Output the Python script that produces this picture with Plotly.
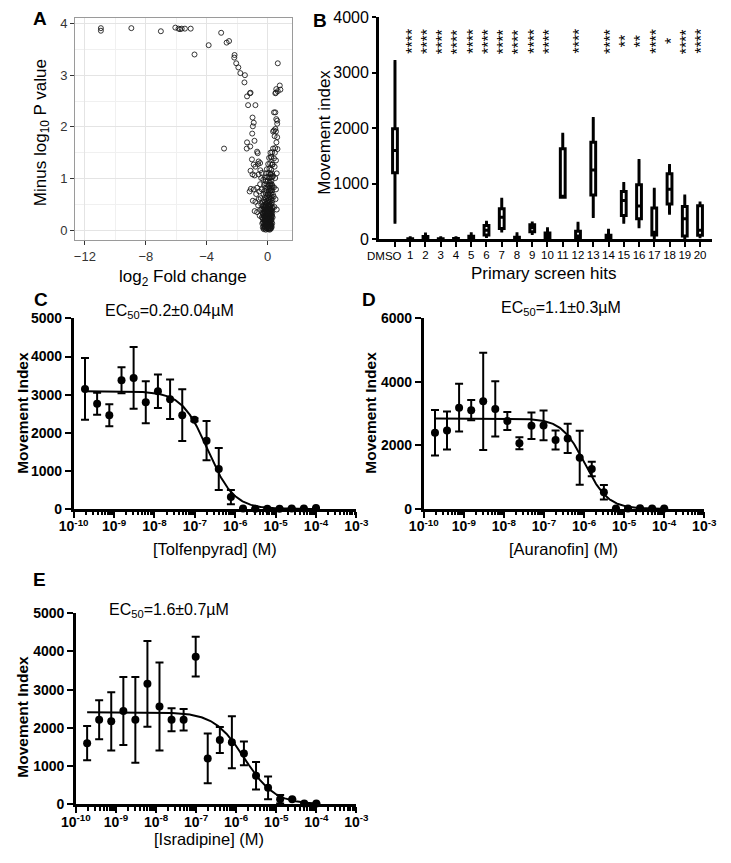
import numpy as np
import plotly.graph_objects as go

W, H = 731, 863
def px(x): return x / W
def py(y): return 1 - y / H

FONT = "Liberation Sans, Arial, sans-serif"

# ---------------- Panel A : volcano plot ----------------
vol_top_x = [-10.95,-10.95,-8.95,-7.01,-6.06,-5.85,-5.75,-5.64,-5.43,-5.05,-4.80,-3.87,-3.05,-2.69,-2.53,
             -2.17,-2.19,-2.06,-1.92,-1.79,-1.49,-1.52,-1.16,-1.12,-1.35,-1.28,-0.80,-2.86]
vol_top_y = [3.91,3.86,3.91,3.85,3.92,3.90,3.89,3.90,3.90,3.90,3.40,3.58,3.82,3.63,3.66,
             3.39,3.34,3.23,3.15,3.04,3.00,2.86,2.65,2.66,2.59,2.42,2.42,1.58]
vol_left_x = [-0.99,-0.91,-0.97,-1.01,-0.86,-1.35,-1.37,-1.14,-0.69,-0.65,-1.03,-0.91,-1.12,-0.99,-0.59,
              -0.48,-0.42,-0.63,-0.80,-0.49,-0.85,-0.59,-0.38,-0.28,-0.49,-1.18,-0.91,-0.69,-0.55,-0.38,
              -0.97,-0.80,-0.59,-0.85,-0.69,-0.49,-1.10,-0.75,-0.62,-0.45,-0.52,-0.41]
vol_left_y = [2.18,2.08,2.01,1.87,1.73,1.70,1.58,1.62,1.52,1.49,1.37,1.27,1.15,1.08,1.33,
              1.16,1.01,1.28,1.23,1.30,1.06,1.08,1.11,0.98,0.89,0.75,0.79,0.82,0.75,0.79,
              0.57,0.55,0.60,0.37,0.35,0.39,0.80,0.70,0.48,0.62,0.28,0.50]
vol_right_x = [0.67,0.80,0.84,0.57,0.51,0.67,0.55,0.51,0.42,0.57,0.63,0.51,0.36,0.63,0.42,
               0.55,0.46,0.63,0.36,0.50,0.65,0.25,0.42,0.55,0.29,0.46,0.21,0.36,0.50,0.15,
               0.29,0.42,0.55,0.21,0.58,0.48,0.60,0.40,0.52,0.45,0.60]
vol_right_y = [3.23,2.80,2.72,2.73,2.65,2.69,2.66,2.28,2.28,2.15,2.06,1.96,1.91,2.12,1.93,
               1.91,1.82,1.80,1.58,1.59,1.57,1.42,1.39,1.35,1.27,1.23,1.08,1.05,1.01,0.91,
               0.87,0.83,0.79,0.77,1.70,1.50,1.10,0.65,0.60,0.45,0.40]
vol_blob_x = [-0.25,-0.12,-0.03,0.05,0.14,0.22,
              -0.31,-0.18,-0.08,0.02,0.10,0.19,0.27,
              -0.22,-0.14,-0.05,0.04,0.12,0.24,
              -0.35,-0.27,-0.10,-0.01,0.08,0.17,0.30,
              -0.19,-0.06,0.03,0.13,0.21,
              -0.29,-0.15,-0.02,0.07,0.16,0.26,
              -0.38,-0.21,-0.09,0.01,0.11,0.20,0.33,
              -0.26,-0.13,-0.04,0.06,0.15,0.24,
              -0.33,-0.17,-0.07,0.03,0.12,0.22,0.31,
              -0.24,-0.11,0.00,0.09,0.18,0.27,
              -0.36,-0.19,-0.06,0.05,0.14,0.25,
              -0.28,-0.14,-0.02,0.08,0.20,0.34,
              -0.22,-0.09,0.02,0.12,0.23,
              -0.31,-0.16,-0.04,0.07,0.17,0.28,
              -0.25,-0.10,0.01,0.10,0.21,0.32,
              -0.18,-0.05,0.06,0.15,0.26,
              -0.27,-0.12,0.03,0.13,0.24,0.35,
              -0.20,-0.07,0.08,0.18,0.29,
              -0.15,-0.02,0.11,0.22,0.33,
              -0.23,-0.08,0.05,0.16,0.27,
              -0.12,0.02,0.14,0.25,
              -0.17,-0.03,0.09,0.20,0.31,
              -0.10,0.06,0.18,0.28,
              -0.05,0.12,0.24,
              0.04,0.17,0.33,
              0.10,0.22,
              0.19,0.30]
vol_blob_y = [0.02,0.01,0.03,0.02,0.01,0.03,
              0.05,0.06,0.04,0.06,0.05,0.04,0.06,
              0.09,0.10,0.08,0.09,0.10,0.09,
              0.13,0.14,0.12,0.13,0.14,0.12,0.13,
              0.17,0.18,0.16,0.17,0.18,
              0.21,0.22,0.20,0.21,0.22,0.20,
              0.25,0.26,0.24,0.25,0.26,0.24,0.25,
              0.29,0.30,0.28,0.29,0.30,0.28,
              0.33,0.34,0.32,0.33,0.34,0.32,0.33,
              0.37,0.38,0.36,0.37,0.38,0.36,
              0.41,0.42,0.40,0.41,0.42,0.40,
              0.45,0.46,0.44,0.45,0.46,0.44,
              0.49,0.50,0.48,0.49,0.50,
              0.54,0.55,0.53,0.54,0.55,0.53,
              0.59,0.60,0.58,0.59,0.60,0.58,
              0.64,0.65,0.63,0.64,0.65,
              0.70,0.71,0.69,0.70,0.71,0.69,
              0.76,0.77,0.75,0.76,0.77,
              0.82,0.83,0.81,0.82,0.83,
              0.88,0.89,0.87,0.88,0.89,
              0.95,0.96,0.94,0.95,
              1.02,1.03,1.01,1.02,1.03,
              1.10,1.11,1.09,1.10,
              1.18,1.19,1.17,
              1.28,1.29,1.27,
              1.40,1.41,
              1.50,1.51]
vol_fill_x = [-0.20,-0.07,0.08,0.17,
              -0.27,-0.11,0.00,0.15,0.23,
              -0.17,-0.02,0.06,0.20,
              -0.30,-0.13,0.01,0.10,0.26,
              -0.23,-0.09,0.05,0.19,
              -0.33,-0.17,-0.05,0.09,0.23,
              -0.20,-0.08,0.03,0.12,0.29,
              -0.29,-0.10,0.01,0.18,
              -0.20,-0.03,0.14,0.24,
              -0.28,-0.12,0.02,0.20,
              -0.20,-0.05,0.11,0.29,
              -0.30,-0.15,0.05,0.17]
vol_fill_y = [0.035,0.036,0.034,0.035,
              0.075,0.074,0.076,0.075,0.074,
              0.115,0.116,0.114,0.115,
              0.155,0.156,0.154,0.155,0.156,
              0.195,0.194,0.196,0.195,
              0.235,0.236,0.234,0.235,0.236,
              0.275,0.274,0.276,0.275,0.274,
              0.315,0.316,0.314,0.315,
              0.355,0.354,0.356,0.355,
              0.395,0.396,0.394,0.395,
              0.435,0.434,0.436,0.435,
              0.475,0.476,0.474,0.475]
vol_x = vol_top_x + vol_left_x + vol_right_x + vol_blob_x + vol_fill_x
vol_y = vol_top_y + vol_left_y + vol_right_y + vol_blob_y + vol_fill_y

# ---------------- Panel B : box plot ----------------
b_cats = ["DMSO"] + [str(i) for i in range(1, 21)]
b_ticktext = [""] + [str(i) for i in range(1, 21)]   # DMSO label drawn separately (left-shifted)
b_min = [310, 0, 0, 0, 0, 0, 50, 150, 0, 105, 0, 760, 0, 410, 0, 310, 225, 30, 470, 20, 45]
b_q1  = [1200, 2, 10, 2, 3, 10, 80, 195, 5, 135, 20, 760, 30, 800, 15, 430, 370, 80, 635, 60, 75]
b_med = [1600, 5, 30, 6, 8, 30, 165, 400, 20, 210, 70, 760, 60, 1250, 45, 700, 600, 130, 900, 370, 165]
b_q3  = [1990, 12, 50, 12, 15, 55, 250, 550, 40, 265, 115, 1630, 145, 1750, 75, 860, 985, 565, 1180, 590, 605]
b_max = [3200, 30, 95, 30, 30, 100, 310, 720, 100, 295, 190, 1890, 290, 2175, 165, 1005, 1420, 900, 1330, 780, 655]
b_sig = ["", "****", "****", "****", "****", "****", "****", "****", "****", "****", "****",
         "", "****", "", "****", "**", "**", "****", "*", "****", "****"]

# ---------------- Panels C, D, E : dose response ----------------
doses = [1.91e-10, 3.81e-10, 7.63e-10, 1.53e-9, 3.05e-9, 6.10e-9, 1.22e-8, 2.44e-8, 4.88e-8, 9.77e-8,
         1.95e-7, 3.91e-7, 7.81e-7, 1.56e-6, 3.13e-6, 6.25e-6, 1.25e-5, 2.5e-5, 5e-5, 1e-4]

c_y = [3150, 2760, 2460, 3380, 3440, 2800, 3090, 2880, 2460, 2340, 1790, 1050, 310, 10, 5, 8, 8, 10, 12, 26]
c_err = [810, 290, 290, 340, 810, 550, 440, 520, 680, 40, 515, 550, 190, 0, 0, 0, 0, 0, 0, 0]
c_fit = dict(top=3090, ec50=2.1e-7, hill=1.35)

d_y = [2400, 2470, 3190, 3110, 3390, 3150, 2770, 2070, 2620, 2630, 2170, 2220, 1610, 1260, 525, 10, 10, 20, 15, 10]
d_err = [720, 600, 750, 320, 1530, 870, 280, 190, 420, 470, 300, 460, 850, 230, 230, 0, 0, 0, 0, 0]
d_fit = dict(top=2850, ec50=1.05e-6, hill=1.5)

e_y = [1600, 2210, 2170, 2440, 2210, 3150, 2560, 2210, 2210, 3860, 1200, 1680, 1620, 1330, 745, 430, 130, 130, 20, 20]
e_err = [450, 510, 760, 890, 1120, 1120, 1150, 300, 280, 520, 650, 340, 680, 310, 360, 300, 110, 0, 0, 0]
e_fit = dict(top=2410, ec50=1.6e-6, hill=1.15)

fig = go.Figure()

# Panel A trace
fig.add_trace(go.Scatter(x=vol_x, y=vol_y, mode="markers", xaxis="x", yaxis="y",
                         marker=dict(symbol="circle-open", size=5, color="rgba(20,20,20,0.85)",
                                     line=dict(width=1)),
                         showlegend=False, hoverinfo="skip"))

# Panel B trace
fig.add_trace(go.Box(x=b_cats, q1=b_q1, median=b_med, q3=b_q3, lowerfence=b_min, upperfence=b_max,
                     xaxis="x2", yaxis="y2", line=dict(color="black", width=3), fillcolor="white",
                     whiskerwidth=0.6, boxpoints=False, showlegend=False))

def dose_panel(idx, ys, errs, fit):
    xa = "x%d" % idx
    ya = "y%d" % idx
    xc = np.logspace(np.log10(doses[0]), np.log10(doses[-1]), 300)
    yc = fit["top"] / (1 + (xc / fit["ec50"]) ** fit["hill"])
    fig.add_trace(go.Scatter(x=xc, y=yc, mode="lines", xaxis=xa, yaxis=ya,
                             line=dict(color="black", width=2), showlegend=False, hoverinfo="skip",
                             cliponaxis=False))
    fig.add_trace(go.Scatter(x=doses, y=ys, mode="markers", xaxis=xa, yaxis=ya,
                             marker=dict(color="black", size=8),
                             error_y=dict(type="data", array=errs, visible=True, color="black",
                                          thickness=2, width=4),
                             showlegend=False, cliponaxis=False))

dose_panel(3, c_y, c_err, c_fit)
dose_panel(4, d_y, d_err, d_fit)
dose_panel(5, e_y, e_err, e_fit)

# ---------------- Layout ----------------
a_axis_common = dict(showline=True, mirror=True, linecolor="#9a9a9a", linewidth=1.2,
                     ticks="outside", ticklen=4, tickwidth=1.3, tickcolor="#333",
                     showgrid=True, gridcolor="#e4e4e4", gridwidth=1, zeroline=False,
                     tickfont=dict(family=FONT, size=13, color="#333"))

log_major = [1e-10, 1e-9, 1e-8, 1e-7, 1e-6, 1e-5, 1e-4, 1e-3]
log_text = ["<b>10<sup>-%d</sup></b>" % k for k in range(10, 2, -1)]
log_minor = [m * 10.0 ** e for e in range(-10, -3) for m in range(2, 10)]

def log_xaxis(dom, anchor):
    return dict(domain=dom, anchor=anchor, type="log", range=[-10, -3],
                tickvals=log_major, ticktext=log_text,
                showline=True, linecolor="black", linewidth=2.5,
                ticks="outside", ticklen=6, tickwidth=2, tickcolor="black",
                ticklabelstandoff=-3,
                minor=dict(tickvals=log_minor, ticks="outside", ticklen=3.5, tickwidth=1.5,
                           tickcolor="black", showgrid=False),
                showgrid=False, zeroline=False,
                tickfont=dict(family=FONT, size=14, color="black"))

def lin_yaxis(dom, anchor, rmax, step):
    vals = list(range(0, rmax + 1, step))
    return dict(domain=dom, anchor=anchor, range=[0, rmax], tickvals=vals,
                ticktext=["<b>%d</b>" % v for v in vals],
                showline=True, linecolor="black", linewidth=2.5,
                ticks="outside", ticklen=6, tickwidth=2, tickcolor="black",
                showgrid=False, zeroline=False,
                tickfont=dict(family=FONT, size=14, color="black"))

fig.update_layout(
    width=W, height=H, margin=dict(l=0, r=0, t=0, b=0),
    paper_bgcolor="white", plot_bgcolor="white",
    font=dict(family=FONT, color="black"),
    boxgap=0.55,
    xaxis=dict(domain=[px(62.7), px(288.3)], anchor="y", range=[-12.63, 1.62],
               tickvals=[-12, -8, -4, 0], ticktext=["\u221212", "\u22128", "\u22124", "0"],
               minor=dict(tickvals=[-10, -6, -2], showgrid=True, gridcolor="#f0f0f0", gridwidth=0.8),
               **a_axis_common),
    yaxis=dict(domain=[py(236.7), py(10)], anchor="x", range=[-0.19, 4.11],
               tickvals=[0, 1, 2, 3, 4],
               minor=dict(tickvals=[0.5, 1.5, 2.5, 3.5], showgrid=True, gridcolor="#f0f0f0", gridwidth=0.8),
               **a_axis_common),
    xaxis2=dict(domain=[px(378.3), px(725)], anchor="y2", type="category", range=[-1.06, 20.8],
                tickvals=b_cats, ticktext=b_ticktext,
                showline=True, linecolor="black", linewidth=2.5, ticks="outside", ticklen=5,
                tickwidth=2, tickcolor="black", showgrid=False, zeroline=False, tickangle=0,
                ticklabelstandoff=-2,
                tickfont=dict(family=FONT, size=11.5, color="black")),
    yaxis2=dict(domain=[py(236), py(9.3)], anchor="x2", range=[0, 4000],
                tickvals=[0, 1000, 2000, 3000, 4000],
                showline=True, linecolor="black", linewidth=2.5, ticks="outside", ticklen=4,
                tickwidth=2, tickcolor="black", showgrid=False, zeroline=False,
                tickfont=dict(family=FONT, size=16, color="black")),
    xaxis3=log_xaxis([px(61), px(355)], "y3"),
    yaxis3=lin_yaxis([py(511), py(316.7)], "x3", 5000, 1000),
    xaxis4=log_xaxis([px(425), px(716.7)], "y4"),
    yaxis4=lin_yaxis([py(511), py(316.7)], "x4", 6000, 2000),
    xaxis5=log_xaxis([px(63.3), px(355)], "y5"),
    yaxis5=lin_yaxis([py(812.3), py(617.3)], "x5", 5000, 1000),
)

ann = []
def add_text(text, x, y, size, bold=False, angle=0, xanchor="center"):
    ann.append(dict(text=("<b>%s</b>" % text) if bold else text, x=px(x), y=py(y),
                    xref="paper", yref="paper", showarrow=False, xanchor=xanchor, yanchor="middle",
                    textangle=angle, font=dict(family=FONT, size=size, color="black")))

# panel letters
add_text("A", 26, 11, 19, bold=True)
add_text("B", 317.5, 12.5, 19, bold=True)
add_text("C", 27, 297, 19, bold=True)
add_text("D", 368, 297, 19, bold=True)
add_text("E", 25, 583, 19, bold=True)

# DMSO category label (sits left of its tick as in the original)
add_text("DMSO", 405, 253, 11.5, xanchor="right")

# axis titles
add_text("Minus log<sub>10</sub> P value", 28, 126.7, 17, angle=-90)
add_text("log<sub>2</sub> Fold change", 175, 275, 17)
add_text("Movement index", 322, 126.7, 17, angle=-90)
add_text("Primary screen hits", 550, 271, 17)
add_text("Movement Index", 8.3, 413, 15.5, bold=True, angle=-90)
add_text("Movement Index", 370, 413, 15.5, bold=True, angle=-90)
add_text("Movement Index", 8.3, 723, 15.5, bold=True, angle=-90)
add_text("[Tolfenpyrad] (M)", 208, 551.7, 16.5)
add_text("[Auranofin] (M)", 570.7, 551.7, 16.5)
add_text("[Isradipine] (M)", 201.7, 847.5, 16.5)

# EC50 labels
add_text("EC<sub>50</sub>=0.2\u00b10.04\u00b5M", 160.7, 310, 16)
add_text("EC<sub>50</sub>=1.1\u00b10.3\u00b5M", 568, 306.7, 16)
add_text("EC<sub>50</sub>=1.6\u00b10.7\u00b5M", 160, 615, 16)

# significance stars above boxes
for cat, s in zip(b_cats, b_sig):
    if s:
        ann.append(dict(text=s, x=cat, y=3560, xref="x2", yref="y2", showarrow=False,
                        xanchor="center", yanchor="middle", textangle=-90, xshift=2,
                        font=dict(family=FONT, size=16, color="black")))

fig.update_layout(annotations=ann)
fig.write_html("out.html", config={"displayModeBar": False},
               post_script="document.body.style.margin='0px';")
